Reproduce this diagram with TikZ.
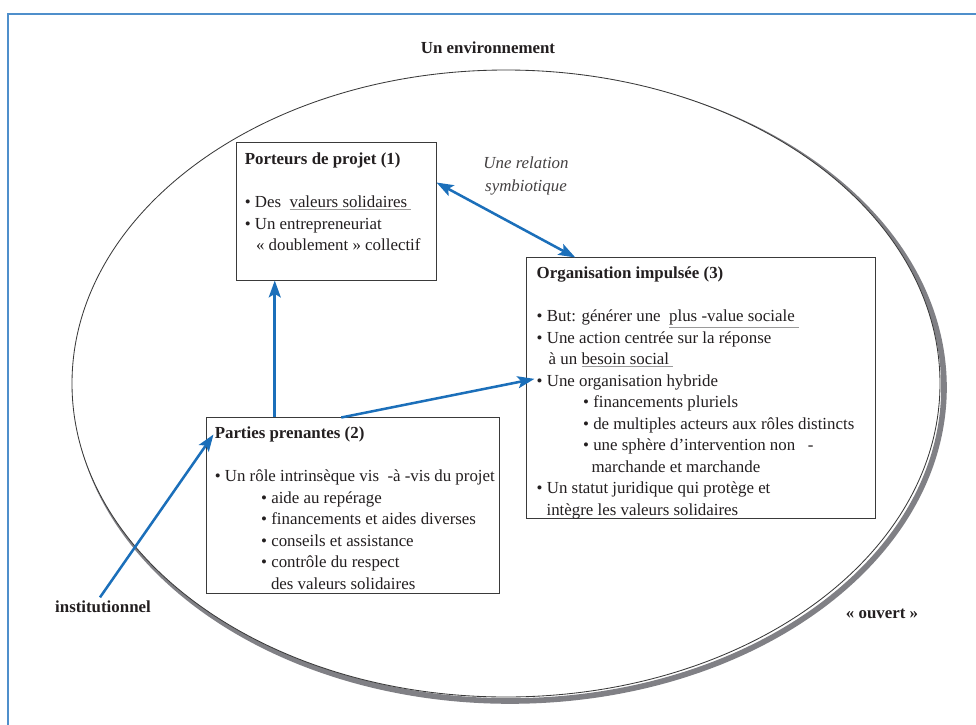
\documentclass[tikz,border=0pt]{standalone}
\usepackage{fontspec}
\setmainfont{Liberation Serif}
\usetikzlibrary{positioning,calc,arrows.meta}
\definecolor{evblue}{HTML}{1B6FBA}
\definecolor{evframe}{HTML}{4F8FCB}
\definecolor{evshadow}{HTML}{808085}
\definecolor{evborder}{HTML}{3A3A3A}
\definecolor{evtext}{HTML}{231F20}
\definecolor{evline}{HTML}{9A9A9A}
\newcommand{\grayul}[1]{\textcolor{evline}{\underline{\textcolor{evtext}{#1}}}}
\newcommand{\bul}{\textbullet\ }
\tikzset{
  box/.style={draw=evborder,line width=0.7pt,inner sep=0pt},
  boxtext/.style={anchor=north west,inner sep=0pt,align=left,text=evtext,
                  font=\fontsize{12}{15.3}\selectfont},
  envtext/.style={inner sep=1pt,text=evtext,font=\fontsize{12}{14}\selectfont\bfseries},
  relation/.style={inner sep=1pt,align=center,text=evtext!85,font=\fontsize{12}{16.5}\selectfont\itshape},
  flow/.style={evblue,line width=1.8pt},
  >={Stealth[length=12pt,width=8.5pt,inset=2.5pt]}
}

\begin{document}
\begin{tikzpicture}[x=0.025cm,y=-0.025cm]
  \useasboundingbox (0,0) rectangle (976,725);
  % ---------- frame ----------
  \draw[evframe,line width=1.5pt] (8,745) -- (8,14) -- (995,14);
  % ---------- environment ----------
  \draw[evshadow,line width=4pt] (510,387.5) ellipse[x radius=434,y radius=313.5];
  \fill[white] (506,383.5) ellipse[x radius=434,y radius=313.5];
  \draw[evborder,line width=0.6pt] (506,383.5) ellipse[x radius=434,y radius=313.5];
  \node[envtext] (environnement) at (488,48) {Un environnement};
  \node[envtext] (ouvert) at (882,614) {« ouvert »};
  \node[envtext] (institutionnel) at (103,607) {institutionnel};
  % ---------- boxes ----------
  \node[box,minimum width=4.975cm,minimum height=3.425cm] (porteurs) at (336.5,211.5) {};
  \node[box,minimum width=8.7cm,minimum height=6.5cm] (organisation) at (701,388) {};
  \node[box,minimum width=7.3cm,minimum height=4.375cm] (parties) at (353,505.5) {};
  \node[boxtext] (porteurs-txt) at ($(porteurs.north west)+(8,10)$)
       {\textbf{Porteurs de projet (1)}\\[15.3pt]
        \bul Des \ \grayul{valeurs solidaires\ }\\
        \bul Un entrepreneuriat\\
        \hspace*{8pt}« doublement » collectif};
  \node[boxtext] (organisation-txt) at ($(organisation.north west)+(10,9)$)
       {\textbf{Organisation impulsée (3)}\\[15.3pt]
        \bul But: générer une \ \grayul{plus -value sociale\ }\\
        \bul Une action centrée sur la réponse\\
        \hspace*{8.5pt}à un \grayul{besoin social\ }\\
        \bul Une organisation hybride\\
        \hspace*{33pt}\bul financements pluriels\\
        \hspace*{33pt}\bul de multiples acteurs aux rôles distincts\\
        \hspace*{33pt}\bul une sphère d’intervention non \ \ -\\
        \hspace*{39pt}marchande et marchande\\
        \bul Un statut juridique qui protège et\\
        \hspace*{7pt}intègre les valeurs solidaires};
  \node[boxtext] (parties-txt) at ($(parties.north west)+(8,9)$)
       {\textbf{Parties prenantes (2)}\\[15.3pt]
        \bul Un rôle intrinsèque vis \ -à -vis du projet\\
        \hspace*{33pt}\bul aide au repérage\\
        \hspace*{33pt}\bul financements et aides diverses\\
        \hspace*{33pt}\bul conseils et assistance\\
        \hspace*{33pt}\bul contrôle du respect\\
        \hspace*{40pt}des valeurs solidaires};
  \node[relation] (symbiose) at (526,176) {Une relation\\symbiotique};
  % ---------- arrows ----------
  \draw[flow,<->] ($(porteurs.north east)!0.29!(porteurs.south east)$)
        -- ($(organisation.north west)!0.14!(organisation.north east)$);
  \coordinate (montee) at ($(parties.north west)!0.233!(parties.north east)$);
  \draw[flow,->] (montee) -- (montee |- porteurs.south);
  \draw[flow,->] ($(parties.north west)!0.46!(parties.north east)$)
        -- ($(organisation.north west)!0.465!(organisation.south west)+(8,0)$);
  \draw[flow,->] ($(institutionnel.north)+(-3,-2)$) -- ($(parties.north west)+(7,17)$);
\end{tikzpicture}
\end{document}
